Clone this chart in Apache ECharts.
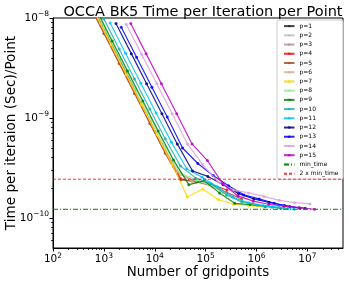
<!DOCTYPE html>
<html>
<head>
<meta charset="utf-8">
<script src="https://cdn.jsdelivr.net/npm/echarts@6/dist/echarts.min.js"></script>
<style>html,body{margin:0;padding:0;background:#fff;}#c{width:349px;height:282px;}</style>
</head>
<body>
<div id="c"></div>
<script>
// ---- data ----
const seriesNames = ['p=1','p=2','p=3','p=4','p=5','p=6','p=7','p=8','p=9','p=10','p=11','p=12','p=13','p=14','p=15'];
const n_p1  = [512,1024,2048,4096];
const t_p1  = [1.52e-8,7.6e-9,3.8e-9,1.9e-9];
const n_p2  = [512,1024,2048,4096,8192,16384,32768];
const t_p2  = [1.48e-8,7.4e-9,3.7e-9,1.86e-9,9.3e-10,4.7e-10,2.7e-10];
const n_p3  = [432,864,1728,3456,6912,13824,27648,55296,110592];
const t_p3  = [1.71e-8,8.6e-9,4.3e-9,2.15e-9,1.07e-9,5.4e-10,2.85e-10,2.4e-10,2.25e-10];
const n_p4  = [512,1024,2048,4096,8192,16384,32768,65536,131072,262144];
const t_p4  = [1.41e-8,7.0e-9,3.5e-9,1.76e-9,8.8e-10,4.45e-10,2.45e-10,2.3e-10,2.15e-10,1.9e-10];
const n_p5  = [500,1000,2000,4000,8000,16000,32000,64000,128000,256000,512000];
const t_p5  = [1.4e-8,7.0e-9,3.5e-9,1.76e-9,8.8e-10,4.45e-10,2.4e-10,2.3e-10,2.1e-10,1.8e-10,1.55e-10];
const n_p6  = [432,864,1728,3456,6912,13824,27648,55296,110592,221184,442368,884736];
const t_p6  = [1.76e-8,8.8e-9,4.4e-9,2.2e-9,1.1e-9,5.5e-10,2.9e-10,2.3e-10,2.2e-10,1.8e-10,1.5e-10,1.38e-10];
const n_p7  = [343,686,1372,2744,5488,10976,21952,43904,87808,175616,351232,702464,1404928];
const t_p7  = [2.15e-8,1.08e-8,5.4e-9,2.7e-9,1.35e-9,6.8e-10,3.4e-10,1.62e-10,1.95e-10,1.53e-10,1.37e-10,1.33e-10,1.28e-10];
const n_p8  = [512,1024,2048,4096,8192,16384,32768,65536,131072,262144,524288,1048576,2097152];
const t_p8  = [1.6e-8,8.0e-9,4.0e-9,2.0e-9,1.0e-9,5.1e-10,2.8e-10,2.4e-10,2.1e-10,1.7e-10,1.45e-10,1.35e-10,1.3e-10];
const n_p9  = [729,1458,2916,5832,11664,23328,46656,93312,186624,373248,746496,1492992,2985984];
const t_p9  = [1.18e-8,5.9e-9,2.95e-9,1.48e-9,7.4e-10,3.8e-10,2.15e-10,2.35e-10,1.78e-10,1.4e-10,1.36e-10,1.3e-10,1.25e-10];
const n_p10 = [1000,2000,4000,8000,16000,32000,64000,128000,256000,512000,1024000,2048000,4096000];
const t_p10 = [9.8e-9,4.9e-9,2.45e-9,1.23e-9,6.2e-10,3.3e-10,2.5e-10,2.2e-10,1.7e-10,1.45e-10,1.35e-10,1.28e-10,1.24e-10];
const n_p11 = [1331,2662,5324,10648,21296,42592,85184,170368,340736,681472,1362944,2725888,5451776];
const t_p11 = [8.9e-9,4.45e-9,2.22e-9,1.12e-9,5.7e-10,3.1e-10,2.55e-10,2.05e-10,1.62e-10,1.42e-10,1.33e-10,1.28e-10,1.22e-10];
const n_p12 = [1728,3456,6912,13824,27648,55296,110592,221184,442368,884736,1769472,3538944,7077888];
const t_p12 = [8.8e-9,4.4e-9,2.2e-9,1.1e-9,5.5e-10,2.95e-10,2.6e-10,2.15e-10,1.75e-10,1.55e-10,1.43e-10,1.33e-10,1.25e-10];
const n_p13 = [2197,4394,8788,17576,35152,70304,140608,281216,562432,1124864,2249728,4499456,8998912];
const t_p13 = [8.1e-9,4.05e-9,2.03e-9,1.02e-9,5.0e-10,3.5e-10,2.65e-10,2.1e-10,1.7e-10,1.55e-10,1.4e-10,1.3e-10,1.25e-10];
const n_p14 = [2744,5488,10976,21952,43904,87808,175616,351232,702464,1404928,2809856,5619712,11239424];
const t_p14 = [8.65e-9,4.35e-9,2.2e-9,1.1e-9,5.5e-10,3.4e-10,2.3e-10,1.9e-10,1.78e-10,1.64e-10,1.5e-10,1.42e-10,1.38e-10];
const n_p15 = [3375,6750,13500,27000,54000,108000,216000,432000,864000,1728000,3456000,6912000,13824000];
const t_p15 = [8.8e-9,4.4e-9,2.2e-9,1.1e-9,5.5e-10,3.75e-10,2.2e-10,1.66e-10,1.47e-10,1.37e-10,1.31e-10,1.27e-10,1.22e-10];
const minTime = 1.22e-10;
const twoMinTime = 2.44e-10;
const xRange = [100, 5e7];
const yRange = [5e-11, 1e-8];
const xMajorTicks = [1e2,1e3,1e4,1e5,1e6,1e7];
const yMajorTicks = [1e-10,1e-9,1e-8];

const seriesN = [n_p1,n_p2,n_p3,n_p4,n_p5,n_p6,n_p7,n_p8,n_p9,n_p10,n_p11,n_p12,n_p13,n_p14,n_p15];
const seriesT = [t_p1,t_p2,t_p3,t_p4,t_p5,t_p6,t_p7,t_p8,t_p9,t_p10,t_p11,t_p12,t_p13,t_p14,t_p15];
const colors = ['#222222','#c0c0c0','#bc8f8f','#ff0000','#a0522d','#d2b48c','#ffd700','#90ee90','#008000','#20b2aa','#00bfff','#000080','#0000ff','#dda0dd','#bf00bf'];

// minor tick positions (axis decoration)
function minors(lo, hi) {
  const out = [];
  for (let e = lo; e < hi; e++) for (let k = 2; k <= 9; k++) out.push(k * Math.pow(10, e));
  return out;
}
const FONT = 'DejaVu Sans';
function powLabel(v) {
  const e = Math.round(Math.log10(v));
  return '{b|10}{s|' + (e < 0 ? '\u2212' + (-e) : e) + '}';
}
const richLbl = {
  b: {fontSize: 10.5, fontFamily: FONT, color: '#000'},
  s: {fontSize: 7.5, fontFamily: FONT, color: '#000', verticalAlign: 'bottom', padding: [0, 0, 7, 0]}
};

const series = seriesNames.map((name, i) => ({
  name: name,
  type: 'line',
  xAxisIndex: 0, yAxisIndex: 0,
  data: seriesN[i].map((n, j) => [n, seriesT[i][j]]),
  symbol: 'circle', symbolSize: 3, showAllSymbol: true,
  lineStyle: {width: 1.2, color: colors[i], opacity: 0.85},
  itemStyle: {color: colors[i], opacity: 0.85},
  clip: true, z: 2 + i
}));
series.push({
  name: 'min_time', type: 'line', xAxisIndex: 0, yAxisIndex: 0,
  data: [[xRange[0], minTime], [xRange[1], minTime]],
  symbol: 'none', z: 20,
  lineStyle: {width: 1, color: '#008000', type: [5, 2, 1, 2]},
  itemStyle: {color: '#008000'}
});
series.push({
  name: '2 x min_time', type: 'line', xAxisIndex: 0, yAxisIndex: 0,
  data: [[xRange[0], twoMinTime], [xRange[1], twoMinTime]],
  symbol: 'none', z: 20,
  lineStyle: {width: 1, color: '#ff0000', type: [3, 2], opacity: 0.8},
  itemStyle: {color: '#ff0000'}
});

const legendData = seriesNames.map(n => ({name: n})).concat([
  {name: 'min_time', itemStyle: {opacity: 0}},
  {name: '2 x min_time', itemStyle: {opacity: 0}}
]);

const chart = echarts.init(document.getElementById('c'), null, {renderer: 'canvas'});
chart.setOption({
  animation: false,
  backgroundColor: '#fff',
  title: {
    text: 'OCCA BK5 Time per Iteration per Point',
    left: 198, top: 0, textAlign: 'center',
    textStyle: {fontFamily: FONT, fontSize: 14.5, fontWeight: 'normal', color: '#000'}
  },
  grid: {left: 53, right: 6, top: 18, bottom: 34, containLabel: false, outerBoundsMode: 'none',
    show: true, borderColor: '#000', borderWidth: 1, backgroundColor: 'transparent'},
  legend: {
    orient: 'vertical', left: 277, top: 20,
    padding: [1.5, 4.5, 1, 6],
    itemWidth: 10.5, itemHeight: 3, itemGap: 0,
    backgroundColor: 'rgba(255,255,255,0.85)', borderColor: '#cccccc', borderWidth: 1, borderRadius: 2,
    textStyle: {fontFamily: FONT, fontSize: 6, color: '#000', lineHeight: 9.22},
    data: legendData
  },
  xAxis: [{
    type: 'log', logBase: 10, min: xRange[0], max: xRange[1],
    name: 'Number of gridpoints', nameLocation: 'middle', nameGap: 18.5, nameMoveOverlap: false,
    nameTextStyle: {fontFamily: FONT, fontSize: 13.4, color: '#000'},
    axisLine: {show: true, lineStyle: {color: '#000', width: 1}},
    axisTick: {show: true, inside: false, length: 3.5, lineStyle: {color: '#000'}, customValues: xMajorTicks},
    axisLabel: {show: true, margin: 4, color: '#000', formatter: powLabel, rich: richLbl, customValues: xMajorTicks},
    splitLine: {show: false}
  }, {
    type: 'log', logBase: 10, min: xRange[0], max: xRange[1], position: 'bottom', gridIndex: 0,
    axisLine: {show: false},
    axisTick: {show: true, inside: false, length: 2, lineStyle: {color: '#000', width: 0.8}, customValues: minors(2, 8).filter(v => v < xRange[1])},
    axisLabel: {show: false},
    splitLine: {show: false}
  }],
  yAxis: [{
    type: 'log', logBase: 10, min: yRange[0], max: yRange[1],
    name: 'Time per iteraion (Sec)/Point', nameLocation: 'middle', nameGap: 35, nameMoveOverlap: false,
    nameTextStyle: {fontFamily: FONT, fontSize: 13.6, color: '#000'},
    axisLine: {show: true, lineStyle: {color: '#000', width: 1}},
    axisTick: {show: true, inside: false, length: 3.5, lineStyle: {color: '#000'}, customValues: yMajorTicks},
    axisLabel: {show: true, margin: 4, color: '#000', formatter: powLabel, rich: richLbl, customValues: yMajorTicks},
    splitLine: {show: false}
  }, {
    type: 'log', logBase: 10, min: yRange[0], max: yRange[1], position: 'left', gridIndex: 0,
    axisLine: {show: false},
    axisTick: {show: true, inside: false, length: 2, lineStyle: {color: '#000', width: 0.8}, customValues: minors(-11, -8).filter(v => v > yRange[0])},
    axisLabel: {show: false},
    splitLine: {show: false}
  }],
  series: series
});
</script>
</body>
</html>
